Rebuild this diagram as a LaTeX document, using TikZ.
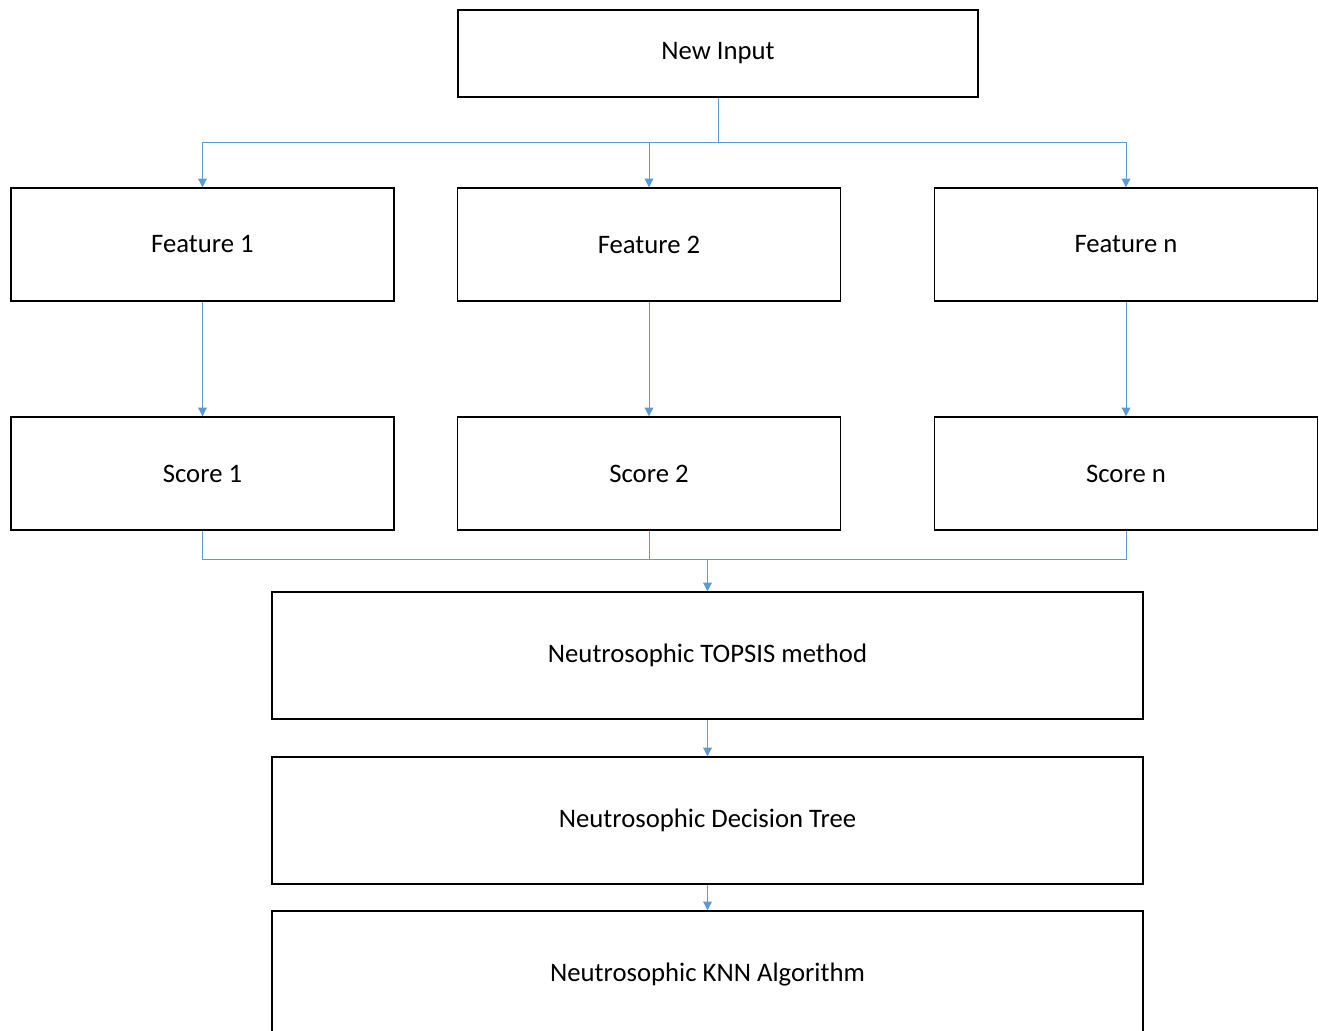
\documentclass[tikz,border=0pt]{standalone}
\usepackage{fontspec}
\setmainfont{Carlito}
\usepackage{xcolor}
\usepackage{tikz}
\usetikzlibrary{arrows.meta}

\definecolor{linkblue}{HTML}{5B9BD5}

\begin{document}
\begin{tikzpicture}[x=0.02cm, y=-0.02cm,
    box/.style={draw, rectangle, line width=0.8pt, inner sep=0pt, align=center, font=\fontsize{15.2}{18}\selectfont},
    conn/.style={draw=linkblue, line width=0.55pt, -{Triangle[length=5pt, width=5pt]}}]
    \clip (0,0) rectangle (1319,1031);
    % Input
    \node[box, minimum width=10.4cm, minimum height=1.74cm] (input) at (718,53.5) {New Input};
    % Features
    \node[box, minimum width=7.66cm, minimum height=2.26cm] (feat1) at (202.5,244.5) {Feature 1};
    \node[box, minimum width=7.66cm, minimum height=2.26cm] (feat2) at (649,244.5) {Feature 2};
    \node[box, minimum width=7.66cm, minimum height=2.26cm] (featn) at (1126,244.5) {Feature n};
    % Scores
    \node[box, minimum width=7.66cm, minimum height=2.26cm] (score1) at (202.5,473.5) {Score 1};
    \node[box, minimum width=7.66cm, minimum height=2.26cm] (score2) at (649,473.5) {Score 2};
    \node[box, minimum width=7.66cm, minimum height=2.26cm] (scoren) at (1126,473.5) {Score n};
    % Methods
    \node[box, minimum width=17.42cm, minimum height=2.54cm] (topsis) at (707.5,655.5) {Neutrosophic TOPSIS method};
    \node[box, minimum width=17.42cm, minimum height=2.54cm] (dtree) at (707.5,820.5) {Neutrosophic Decision Tree};
    \node[box, minimum width=17.42cm, minimum height=2.54cm] (knn) at (707.5,974.5) {Neutrosophic KNN Algorithm};

    % Connections
    \coordinate (split) at (718,142);
    \coordinate (join) at (707.5,559);
    \draw[conn, -] (input.south) -- (split);
    \draw[conn] (split) -| (feat1.north);
    \draw[conn] (split) -| (feat2.north);
    \draw[conn] (split) -| (featn.north);
    \draw[conn] (feat1) -- (score1);
    \draw[conn] (feat2) -- (score2);
    \draw[conn] (featn) -- (scoren);
    \draw[conn, -] (score1.south) |- (join);
    \draw[conn, -] (score2.south) |- (join);
    \draw[conn, -] (scoren.south) |- (join);
    \draw[conn] (join) -- (topsis.north);
    \draw[conn] (topsis) -- (dtree);
    \draw[conn] (dtree) -- (knn);
\end{tikzpicture}
\end{document}
